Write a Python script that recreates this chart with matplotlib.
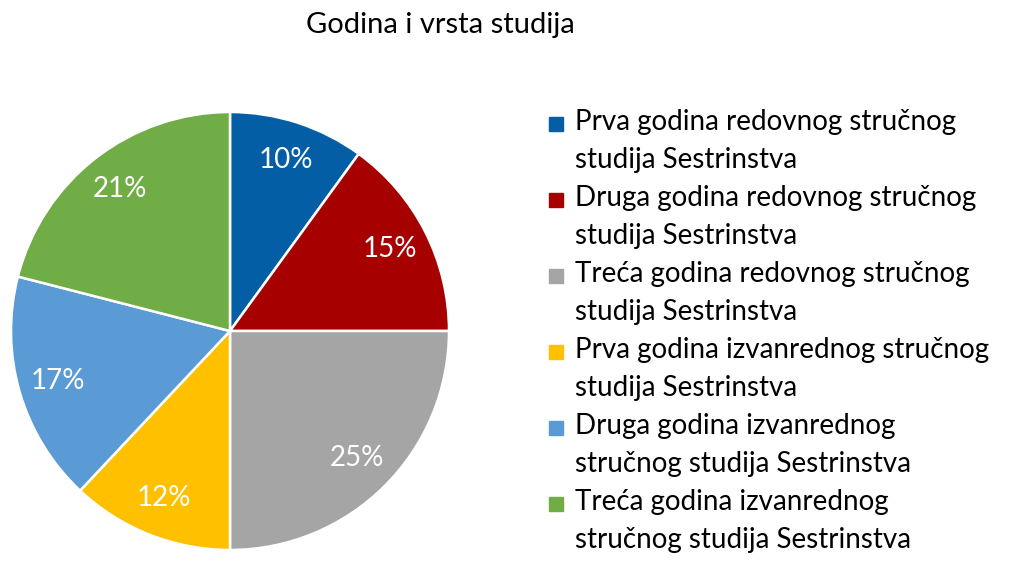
import matplotlib.pyplot as plt
from matplotlib.patches import Rectangle

plt.rcParams["font.family"] = ["Lato", "DejaVu Sans"]

title = "Godina i vrsta studija"
categories = [
    "Prva godina redovnog stručnog\nstudija Sestrinstva",
    "Druga godina redovnog stručnog\nstudija Sestrinstva",
    "Treća godina redovnog stručnog\nstudija Sestrinstva",
    "Prva godina izvanrednog stručnog\nstudija Sestrinstva",
    "Druga godina izvanrednog\nstručnog studija Sestrinstva",
    "Treća godina izvanrednog\nstručnog studija Sestrinstva",
]
shares = [10, 15, 25, 12, 17, 21]
colors = ["#035EA5", "#A60000", "#A5A5A5", "#FFC000", "#5B9BD5", "#70AD47"]

W, H = 1022, 565
fig = plt.figure(figsize=(W / 100, H / 100), dpi=100)

# pie axes: centre (230, 331) px, radius 219 px
cx, cy, r = 230, 331, 219
ax = fig.add_axes([(cx - r) / W, (H - cy - r) / H, 2 * r / W, 2 * r / H])
wedges, texts, autotexts = ax.pie(
    shares, colors=colors, startangle=90, counterclock=False,
    autopct=lambda p: f"{p:.0f}%", pctdistance=0.82,
    wedgeprops=dict(edgecolor="white", linewidth=1.8),
    textprops=dict(color="white", fontsize=20),
)
ax.set_xlim(-1, 1)
ax.set_ylim(-1, 1)
ax.set_aspect("equal")

fig.text(440 / W, 1 - 25 / H, title, ha="center", va="center", fontsize=21)

# legend drawn by hand: square next to the first line, wrapped text below
for i, (lab, col) in enumerate(zip(categories, colors)):
    y0 = 122 + 76 * i
    fig.patches.append(Rectangle((549 / W, 1 - (y0 + 9) / H), 14 / W, 14 / H,
                                 transform=fig.transFigure, color=col))
    for j, line in enumerate(lab.split("\n")):
        fig.text(575 / W, 1 - (y0 + 38 * j) / H, line, ha="left", va="center",
                 fontsize=20)

fig.savefig("out.png", dpi=100)
